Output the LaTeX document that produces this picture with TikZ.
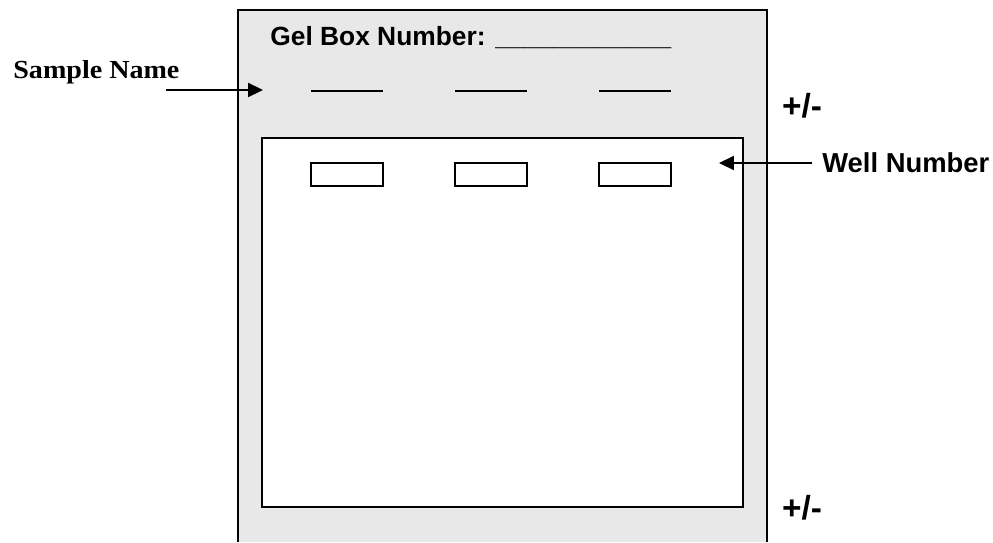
\documentclass[tikz,border=0pt]{standalone}
\usepackage{fontspec}
\setmainfont{Liberation Sans}
\newfontfamily\labelserif[FakeStretch=1.08]{Liberation Serif}
\usetikzlibrary{arrows.meta}
\definecolor{gelgray}{HTML}{E8E8E8}
\begin{document}
\begin{tikzpicture}[x=0.02cm, y=-0.02cm, every node/.style={font=\bfseries, inner sep=0pt},
    pointer/.style={-{Triangle[length=8.5pt, width=8pt]}, line width=1pt}]
  \useasboundingbox (0,0) rectangle (993,542);
  % gel tray, open at the bottom
  \fill[gelgray] (238,10) rectangle (767,542);
  \draw[line width=1.1pt] (238,542) -- (238,10) -- (767,10) -- (767,542);
  \node[anchor=base west, font=\bfseries\fontsize{15}{18}\selectfont] (title) at (270,45) {Gel Box Number: \_\_\_\_\_\_\_\_\_\_\_\_};
  % gel
  \draw[fill=white, line width=1.1pt] (262,138) rectangle (743,507);
  \foreach \x in {347,491,635} {
    \draw[line width=1pt] (\x-36,91) -- (\x+36,91);
    \draw[line width=0.9pt] (\x-36,163) rectangle (\x+36,186);
  }
  \node[anchor=base, font=\bfseries\fontsize{19}{22}\selectfont] (top) at (802,117) {+/-};
  \node[anchor=base, font=\bfseries\fontsize{19}{22}\selectfont] (bottom) at (802,519) {+/-};
  \node[anchor=base west, font=\labelserif\bfseries\fontsize{14.8}{18}\selectfont] (sample) at (13,78) {Sample Name};
  \node[anchor=west, font=\bfseries\fontsize{15.6}{18}\selectfont] (well) at (822,163) {Well Number};
  \coordinate (sampletail) at (166,90);
  \coordinate (samplehead) at (263,90);
  \coordinate (welltail) at (812,163);
  \coordinate (wellhead) at (719,163);
  \draw[pointer] (sampletail) -- (samplehead);
  \draw[pointer] (welltail) -- (wellhead);
\end{tikzpicture}
\end{document}
